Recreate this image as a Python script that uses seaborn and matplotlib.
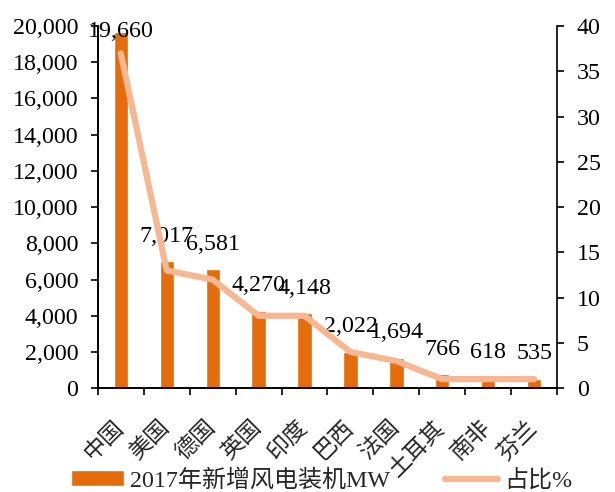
import numpy as np
import pandas as pd
import matplotlib
matplotlib.use("Agg")
import matplotlib.pyplot as plt
from matplotlib.transforms import ScaledTranslation
import seaborn as sns

# Countries, newly installed wind capacity in 2017 (MW) and share (%)
countries = ["中国", "美国", "德国", "英国", "印度", "巴西", "法国", "土耳其", "南非", "芬兰"]
capacity_mw = [19660, 7017, 6581, 4270, 4148, 2022, 1694, 766, 618, 535]
share_pct = [37, 13, 12, 8, 8, 4, 3, 1, 1, 1]
bar_label = "2017年新增风电装机MW"
line_label = "占比%"

sns.set_theme(style="white")
plt.rcParams["font.family"] = ["Liberation Serif", "Noto Sans CJK SC", "DejaVu Sans"]
plt.rcParams["axes.unicode_minus"] = False

BAR_COLOR = "#E46C0A"
LINE_COLOR = "#F8B793"
FS = 17.3

df = pd.DataFrame({"country": countries, "mw": capacity_mw, "share": share_pct})
n = len(countries)
xs = np.arange(n)

fig = plt.figure(figsize=(6.15, 4.92), dpi=100)
ax = fig.add_axes([0.159, 0.211, 0.747, 0.736])

sns.barplot(data=df, x="country", y="mw", color=BAR_COLOR, width=0.31,
            saturation=1, ax=ax, label=bar_label)
if ax.get_legend() is not None:
    ax.get_legend().remove()
ax.set_xlim(-0.5, n - 0.5)
ax.set_ylim(0, 20000)
ax.set_yticks(np.arange(0, 20001, 2000))
ax.set_yticklabels([f"{v:,}" for v in range(0, 20001, 2000)], fontsize=FS)
ax.set_xlabel("")
ax.set_ylabel("")

# category labels at bar centres, boundary ticks between bars
ax.set_xticks(xs)
ax.set_xticklabels(countries, rotation=45, ha="right", va="top",
                   rotation_mode="anchor", fontsize=16.5,
                   family=["Noto Sans CJK SC"])
ax.tick_params(axis="x", which="major", length=0, pad=20)
shift = ScaledTranslation(-9 / 100, 0, fig.dpi_scale_trans)
for lab in ax.get_xticklabels():
    lab.set_transform(lab.get_transform() + shift)
ax.set_xticks(np.arange(-0.5, n, 1.0), minor=True)
ax.tick_params(axis="x", which="minor", length=5, width=1.2, color="black",
               direction="out", bottom=True)
ax.tick_params(axis="y", length=5, width=1.2, color="black", direction="out",
               left=True, pad=9, labelcolor="black")

# value labels above the bars, kept inside the plotting area
for x, v in zip(xs, capacity_mw):
    y = min(v + 1380, 19700)
    ax.text(x, y, f"{v:,}", ha="center", va="center", fontsize=FS,
            color="black", family=["Liberation Serif"])

ax2 = ax.twinx()
sns.lineplot(x=xs, y=share_pct, ax=ax2, color=LINE_COLOR, linewidth=4.5,
             label=line_label, legend=False)
for l in ax2.get_lines():
    l.set_solid_capstyle("round")
    l.set_solid_joinstyle("round")
ax2.set_ylim(0, 40)
ax2.set_yticks(np.arange(0, 41, 5))
ax2.set_yticklabels([str(v) for v in range(0, 41, 5)], fontsize=FS)
ax2.tick_params(axis="y", length=5, width=1.2, color="black", direction="out",
                right=True, pad=9, labelcolor="black")
ax2.set_ylabel("")
ax2.grid(False)
ax.grid(False)

for a in (ax, ax2):
    a.spines["top"].set_visible(False)
    for s in ("left", "right", "bottom"):
        a.spines[s].set_color("black")
        a.spines[s].set_linewidth(1.2)
ax.spines["right"].set_visible(False)

h1, l1 = ax.get_legend_handles_labels()
h2, l2 = ax2.get_legend_handles_labels()
fig.legend(h1 + h2, l1 + l2, loc="center left",
           bbox_to_anchor=(71 / 615, 0.024), borderaxespad=0, borderpad=0,
           ncol=2, frameon=False, handlelength=2.2, handleheight=0.6,
           columnspacing=2.3, handletextpad=0.25,
           prop={"family": ["Liberation Serif", "Noto Sans CJK SC"], "size": FS})

fig.savefig("out.png", dpi=100)
